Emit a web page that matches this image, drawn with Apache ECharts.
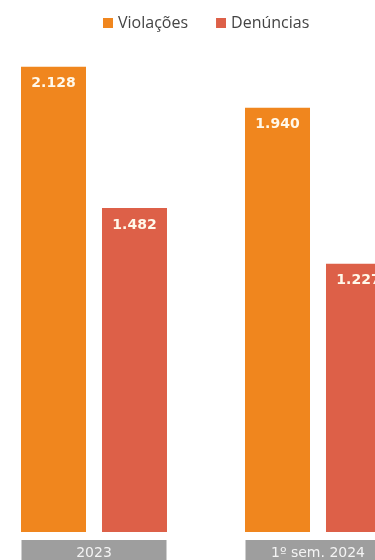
<!DOCTYPE html>
<html>
<head>
<meta charset="utf-8">
<style>
	html, body { margin: 0; padding: 0; background: #fff; overflow: hidden; }
	body { width: 375px; height: 560px; position: relative; }
	/* the original chart is wider than the window and cropped on both sides */
	#chart { position: absolute; left: -18px; top: 0; width: 448px; height: 560px; }
</style>
<script src="https://cdn.jsdelivr.net/npm/echarts@6/dist/echarts.min.js"></script>
</head>
<body>
<div id="chart"></div>
<script>
	var categories = ['2023', '1º sem. 2024'];
	var violacoes = [2128, 1940];
	var denuncias = [1482, 1227];
	var seriesNames = ['Violações', 'Denúncias'];

	// 2128 -> "2.128"
	function fmt(v) {
		return String(v).replace(/\B(?=(\d{3})+(?!\d))/g, '.');
	}

	var valueLabel = {
		show: true,
		position: 'insideTop',
		distance: 10,
		color: '#fff8ea',
		fontFamily: 'DejaVu Sans',
		fontWeight: 'bold',
		fontSize: 14,
		formatter: function (p) { return fmt(p.value); }
	};

	var chart = echarts.init(document.getElementById('chart'));
	var option = {
		backgroundColor: '#fff',
		animation: false,
		legend: {
			top: 10,
			left: 116,
			itemWidth: 10,
			itemHeight: 10,
			itemGap: 28,
			icon: 'rect',
			data: seriesNames,
			textStyle: {
				color: '#444',
				fontFamily: 'Open Sans',
				fontSize: 16
			}
		},
		grid: {
			left: 0,
			right: 0,
			top: 51,
			bottom: 28,
			outerBoundsMode: 'none'
		},
		xAxis: {
			type: 'category',
			data: categories,
			axisLine: { show: false },
			axisTick: { show: false },
			axisLabel: {
				margin: 8,
				width: 145,
				height: 26,
				lineHeight: 26,
				align: 'center',
				backgroundColor: '#9e9e9e',
				color: '#f4f4f4',
				fontFamily: 'DejaVu Sans',
				fontSize: 14
			}
		},
		yAxis: {
			type: 'value',
			min: 0,
			max: 2200,
			show: false,
			splitLine: { show: false }
		},
		series: [
			{
				name: seriesNames[0],
				type: 'bar',
				barWidth: 65,
				barGap: '24.6%',
				itemStyle: { color: '#f0861e' },
				label: valueLabel,
				data: violacoes
			},
			{
				name: seriesNames[1],
				type: 'bar',
				barWidth: 65,
				itemStyle: { color: '#dd6048' },
				label: valueLabel,
				data: denuncias
			}
		]
	};
	chart.setOption(option);
</script>
</body>
</html>
